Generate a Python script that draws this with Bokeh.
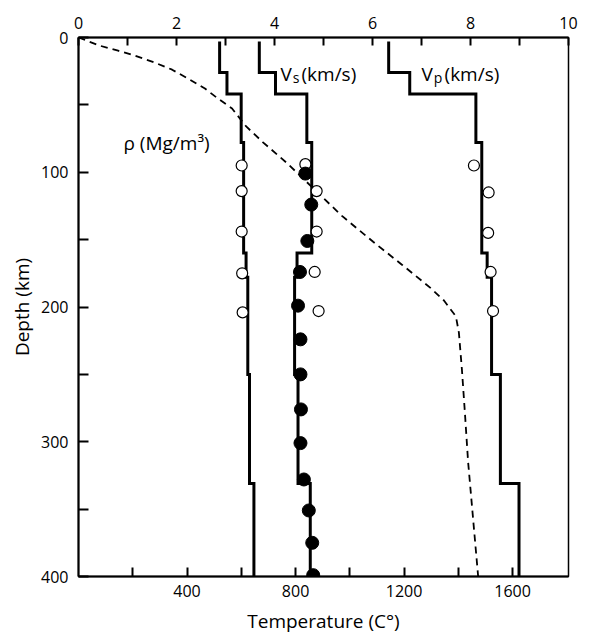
from bokeh.plotting import figure
from bokeh.models import Range1d, LinearAxis, FixedTicker, Label
from bokeh.embed import file_html
from bokeh.resources import INLINE

# ---------------- data ----------------
layer_tops = [3, 26, 42, 78, 160, 178, 250, 331]
layer_bottoms = [26, 42, 78, 160, 178, 250, 331, 400]
density = [2.88, 3.03, 3.32, 3.37, 3.42, 3.455, 3.49, 3.58]
vs = [3.69, 4.02, 4.66, 4.76, 4.46, 4.41, 4.48, 4.73]
vp = [6.33, 6.76, 8.11, 8.23, 8.34, 8.43, 8.61, 8.99]

obs_rho_depth = [95, 114, 144, 175, 204]
obs_rho = [3.33, 3.33, 3.33, 3.34, 3.35]
obs_vs_depth = [94, 114, 144, 174, 203]
obs_vs = [4.63, 4.86, 4.86, 4.82, 4.90]
obs_vp_depth = [95, 115, 145, 174, 203]
obs_vp = [8.07, 8.37, 8.36, 8.41, 8.46]

calc_vs_depth = [101, 124, 151, 174, 199, 224, 250, 276, 301, 328, 351, 375, 399]
calc_vs = [4.63, 4.75, 4.67, 4.52, 4.48, 4.53, 4.53, 4.54, 4.53, 4.60, 4.70, 4.77, 4.79]

geo_depth = [0, 6.1, 9.8, 13.5, 18.7, 23.9, 30.5, 37.9, 45.3, 52.7, 66, 77.8, 93.3,
             132.4, 151.6, 168.6, 185.6, 195.2, 207, 219, 246, 278, 315, 400]
geo_temp = [0, 79, 146, 208, 282, 345, 404, 466, 514, 566, 618, 680, 769,
            971, 1086, 1192, 1296, 1347, 1391, 1402, 1413, 1424, 1436, 1473]

top_ticks = [0, 2, 4, 6, 8, 10]
top_minor = [1, 3, 5, 7, 9]
depth_ticks = [0, 100, 200, 300, 400]
depth_minor = [50, 150, 250, 350]
temp_ticks = [400, 800, 1200, 1600]
temp_minor = [200, 600, 1000, 1400]

FONT = "Open Sans"

p = figure(width=585, height=636, x_range=Range1d(0, 10), y_range=Range1d(400, 0),
           x_axis_location="above", output_backend="svg", toolbar_location=None,
           min_border_left=78, min_border_top=37, min_border_right=17, min_border_bottom=58)
p.extra_x_ranges = {"temp": Range1d(0, 1806)}
p.grid.visible = False
p.outline_line_color = "black"
p.outline_line_width = 1.5
p.background_fill_color = "white"
p.border_fill_color = "white"


def style_axis(ax, ticks, minor, tick_len, standoff):
    ax.ticker = FixedTicker(ticks=ticks, minor_ticks=minor)
    ax.axis_line_color = "black"
    ax.axis_line_width = 2
    ax.major_tick_in = tick_len
    ax.major_tick_out = 0
    ax.minor_tick_in = tick_len
    ax.minor_tick_out = 0
    ax.major_tick_line_width = 2
    ax.minor_tick_line_width = 2
    ax.major_tick_line_color = "black"
    ax.minor_tick_line_color = "black"
    ax.major_label_text_font = FONT
    ax.major_label_text_font_size = "16px"
    ax.major_label_text_color = "black"
    ax.major_label_standoff = standoff
    ax.axis_label_text_font = FONT
    ax.axis_label_text_font_size = "19px"
    ax.axis_label_text_font_style = "normal"
    ax.axis_label_text_color = "black"


style_axis(p.xaxis[0], top_ticks, top_minor, 8, 9)
style_axis(p.yaxis[0], depth_ticks, depth_minor, 10, 10)
p.yaxis[0].axis_label = "Depth (km)"
p.yaxis[0].axis_label_standoff = 3

temp_axis = LinearAxis(x_range_name="temp")
style_axis(temp_axis, temp_ticks, temp_minor, 9, 8)
temp_axis.axis_label = "Temperature (C°)"
temp_axis.axis_label_standoff = 8
p.add_layout(temp_axis, "below")


def steps(vals, tops, bots):
    xs, ys = [], []
    for v, t, b in zip(vals, tops, bots):
        xs += [v, v]
        ys += [t, b]
    return xs, ys


# geotherm (temperature axis)
p.line(geo_temp, geo_depth, x_range_name="temp", line_color="black",
       line_width=1.8, line_dash="7 5")

for vals in (density, vs, vp):
    xs, ys = steps(vals, layer_tops, layer_bottoms)
    p.line(xs, ys, line_color="black", line_width=3, line_join="miter")

p.scatter(obs_rho, obs_rho_depth, marker="circle", size=11, fill_color="white",
          line_color="black", line_width=1.2)
p.scatter(obs_vs, obs_vs_depth, marker="circle", size=11, fill_color="white",
          line_color="black", line_width=1.2)
p.scatter(obs_vp, obs_vp_depth, marker="circle", size=11, fill_color="white",
          line_color="black", line_width=1.2)
p.scatter(calc_vs, calc_vs_depth, marker="circle", size=13, fill_color="black",
          line_color="black", line_width=1)


def lab(x, y, text, size="19px", **kw):
    p.add_layout(Label(x=x, y=y, text=text, text_font=FONT, text_font_size=size,
                       text_color="black", **kw))


lab(0.918, 78.5, "ρ (Mg/m³)", text_baseline="alphabetic")
lab(4.12, 26.8, "V", text_baseline="alphabetic")
lab(4.37, 29.4, "s", size="14px", text_baseline="alphabetic")
lab(4.55, 26.8, "(km/s)", text_baseline="alphabetic")
lab(7.0, 26.8, "V", text_baseline="alphabetic")
lab(7.25, 29.4, "p", size="14px", text_baseline="alphabetic")
lab(7.47, 26.8, "(km/s)", text_baseline="alphabetic")

open("out.html", "w").write(file_html(p, INLINE))
